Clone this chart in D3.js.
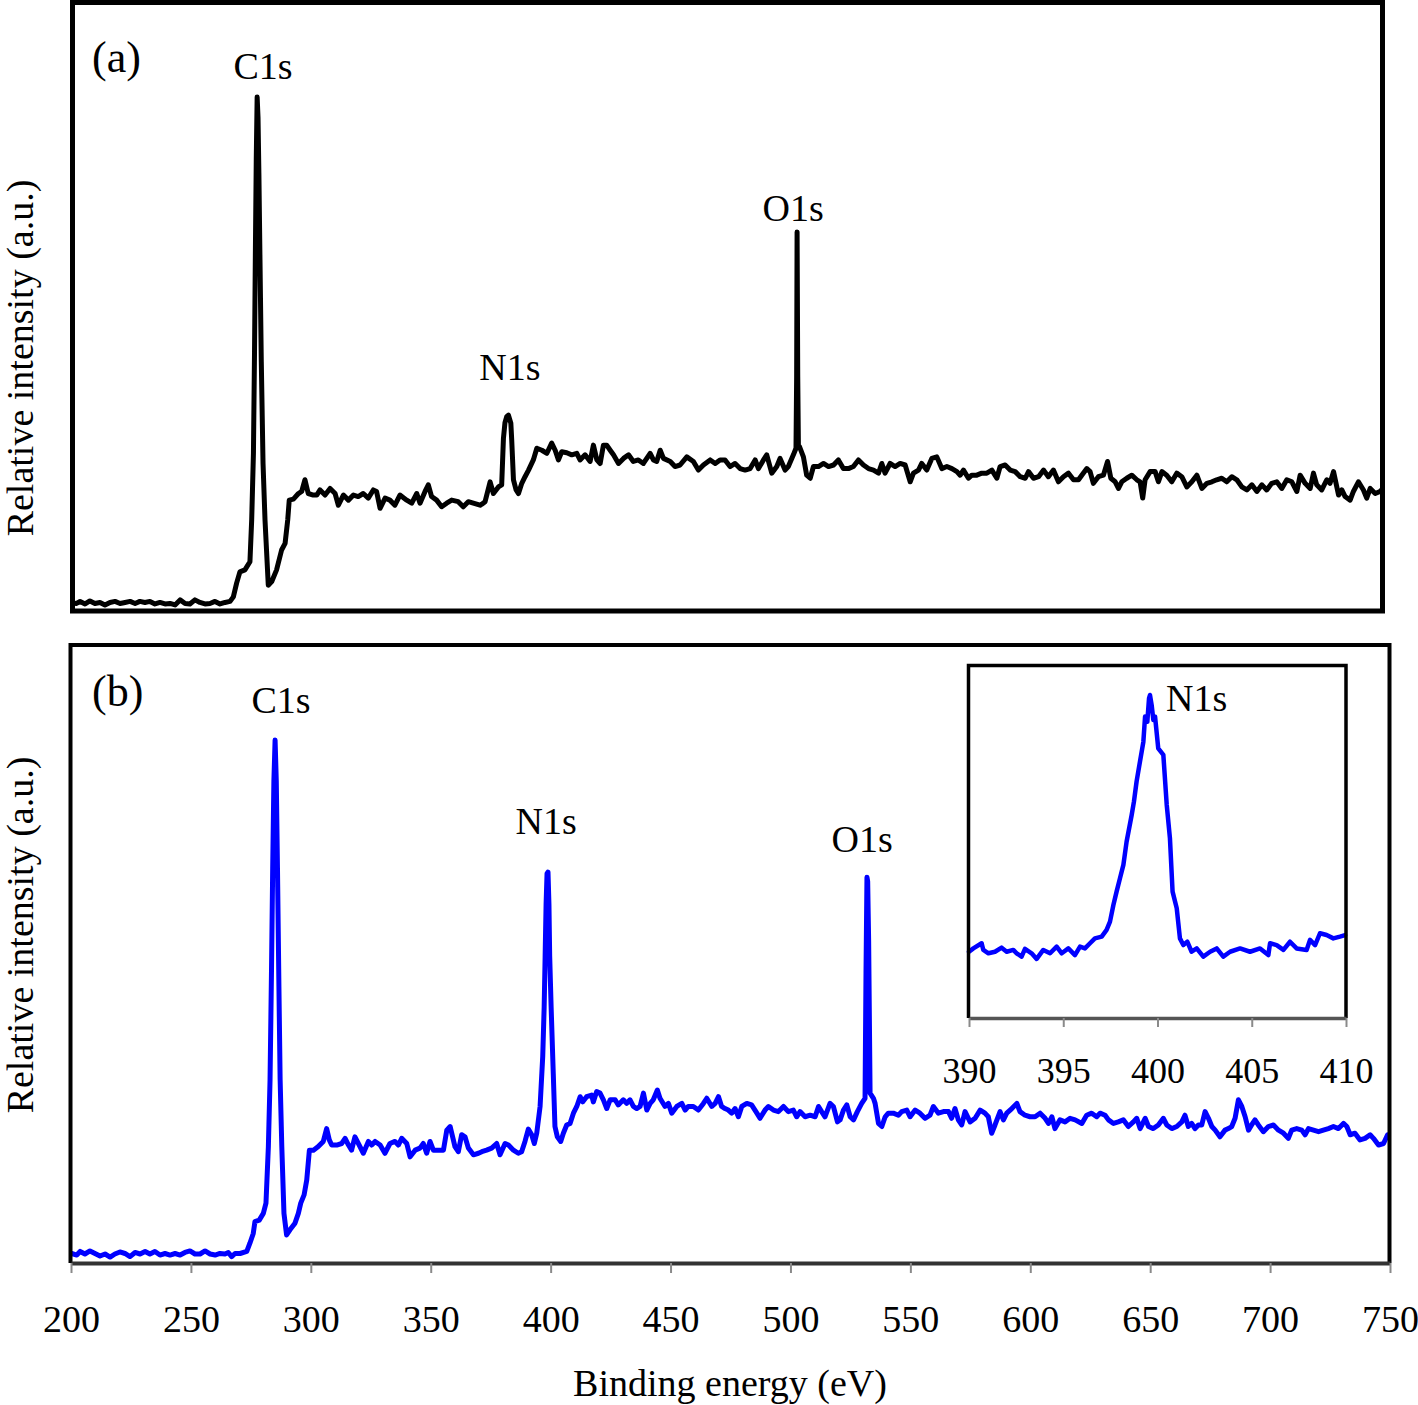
<!DOCTYPE html>
<html>
<head>
<meta charset="utf-8">
<script src="https://cdn.jsdelivr.net/npm/d3@7"></script>
<style>
  html, body { margin: 0; padding: 0; background: #fff; }
  svg text { font-family: "Liberation Serif", "Times New Roman", serif; fill: #000; }
</style>
</head>
<body>
<svg id="chart" width="1418" height="1405"></svg>
<script>
// ---------- DATA ----------
// Panel (a): survey spectrum [binding energy (eV), relative intensity]
const specA = [
[200,0.6],[202.1,0.5],[203.7,0.9],[206.0,0.4],[208.2,1.0],[210.5,0.5],[212.8,0.7],[215.1,0.2],[217.4,0.7],[219.7,0.9],
[222.0,0.5],[224.3,0.7],[226.6,0.9],[228.9,0.5],[231.1,0.9],[233.4,0.7],[235.7,0.9],[238.0,0.4],[240.3,0.7],[242.6,0.4],
[244.9,0.5],[247.2,0.2],[249.5,1.2],[251.8,0.5],[254.0,0.4],[256.3,1.2],[258.6,0.7],[260.9,0.4],[263.2,0.5],[265.5,0.9],
[267.8,0.4],[270.1,0.7],[272.4,0.9],[273.9,1.8],[275.4,4.5],[276.9,6.7],[279.2,7.1],[281.5,8.7],[282.3,16.9],[283.1,30],
[283.6,50],[284.0,70],[284.4,88],[284.8,100],[285.2,96],[285.6,85],[286.1,68],[286.7,48],[287.5,28],[288.4,16.9],
[289.9,4.1],[291.5,4.8],[293.7,7.1],[296.0,11.0],[297.6,12.3],[298.8,16.9],[299.5,20.8],[301.4,21.0],[303.7,22.1],[305.2,22.5],
[306.7,24.8],[308.2,22.1],[310.5,21.8],[312.1,21.8],[313.6,22.8],[315.9,21.8],[318.2,23.1],[320.5,22.1],[322.0,19.8],[324.3,21.8],
[326.6,20.8],[328.9,21.8],[331.1,21.5],[333.4,22.1],[335.7,21.2],[338.0,22.8],[339.5,22.5],[341.1,19.2],[343.4,21.2],[345.6,20.8],
[347.9,19.8],[350.2,21.8],[353.3,20.8],[355.6,20.2],[357.9,22.1],[359.4,20.2],[361.7,22.5],[363.2,23.8],[364.7,21.5],[367.0,20.8],
[369.3,19.5],[371.6,20.2],[373.9,20.8],[376.9,20.5],[379.2,19.5],[381.5,20.5],[383.8,20.2],[386.9,19.8],[387.7,20.0],[389.2,20.5],
[391.5,24.4],[393.0,22.1],[395.3,23.4],[396.8,23.8],[397.6,32.9],[398.3,36.0],[399.1,37.2],[399.9,37.5],[401.0,35.9],[401.4,32.6],
[402.2,24.8],[403.4,22.8],[404.5,22.1],[406.0,24.1],[407.5,25.4],[409.1,26.7],[411.3,28.7],[412.9,31.0],[415.2,30.6],[417.5,30.0],
[419.7,32.0],[421.3,30.6],[422.8,28.7],[424.3,30.3],[426.6,30.1],[428.9,29.7],[431.2,30.0],[432.7,28.7],[435.0,29.7],[437.3,28.4],
[438.8,31.6],[440.4,28.7],[441.9,28.0],[443.4,31.6],[444.9,31.6],[446.5,30.6],[448.0,29.7],[450.3,28.0],[452.6,29.0],[454.9,29.7],
[457.1,28.4],[459.4,28.7],[461.7,28.0],[464.8,30.0],[466.3,28.7],[467.8,28.4],[469.4,30.6],[470.9,29.0],[474.0,28.4],[476.2,27.4],
[478.5,27.7],[481.6,29.3],[484.6,28.4],[486.9,26.7],[489.2,27.7],[492.3,28.7],[494.6,28.0],[496.8,28.7],[499.1,28.7],[501.4,27.4],
[503.7,28.0],[506.0,27.0],[508.3,26.7],[510.6,27.0],[512.9,28.7],[514.4,27.0],[516.7,28.7],[518.2,29.7],[520.5,26.1],[522.8,27.4],
[524.3,29.0],[526.6,26.7],[528.1,27.4],[530.4,29.7],[531.6,31.0],[531.9,45],[532.1,73.5],[532.4,45],[532.7,31.5],[533.2,31.3],
[535.0,29.3],[536.5,25.7],[538.1,25.1],[539.6,27.4],[541.9,27.4],[544.2,28.0],[546.5,27.4],[548.8,27.7],[551.0,28.7],[553.3,27.0],
[555.6,27.0],[557.9,27.4],[560.2,28.7],[562.5,27.7],[564.8,27.0],[567.1,26.7],[569.4,26.1],[570.9,28.0],[572.4,26.1],[574.7,28.0],
[577.0,27.4],[579.3,28.0],[581.6,27.7],[583.9,24.4],[585.4,26.1],[587.7,26.7],[589.2,28.0],[591.5,26.7],[593.8,29.0],[596.1,29.3],
[598.4,27.0],[600.7,27.4],[603.0,27.0],[605.3,26.4],[606.8,25.7],[608.3,26.7],[610.6,25.1],[612.1,25.7],[614.4,25.7],[616.7,26.1],
[619.0,26.1],[621.3,26.7],[623.6,25.1],[625.1,27.4],[627.4,27.7],[629.7,26.7],[632.0,26.4],[634.3,25.4],[636.6,25.1],[638.1,26.4],
[640.4,25.1],[642.7,25.4],[645.0,26.7],[647.2,25.4],[649.5,26.7],[651.8,24.4],[654.1,25.4],[656.4,26.1],[658.7,24.8],[661.0,24.8],
[662.5,25.7],[664.8,27.0],[666.3,26.4],[667.8,24.1],[670.1,25.4],[672.4,25.7],[674.3,28.4],[675.8,25.1],[677.8,24.4],[679.3,23.1],
[680.8,24.4],[683.1,25.1],[685.4,25.7],[687.7,24.8],[689.2,24.4],[690.4,21.2],[691.5,24.8],[693.8,26.4],[696.1,26.4],[697.6,24.4],
[699.2,26.4],[701.4,25.7],[703.7,24.4],[706.0,26.1],[708.3,25.4],[710.6,23.4],[712.9,24.4],[715.2,25.7],[717.5,23.1],[719.8,24.1],
[722.1,24.4],[724.3,24.8],[726.6,25.1],[728.9,24.4],[731.2,25.4],[733.5,24.8],[735.8,23.4],[738.1,22.8],[740.4,23.8],[742.7,22.5],
[745.0,23.8],[747.2,22.8],[749.5,24.1],[751.8,24.4],[754.1,23.1],[756.4,24.8],[758.7,24.4],[761.0,22.5],[762.5,25.7],[764.8,24.1],
[767.1,23.1],[768.6,26.1],[770.1,23.8],[772.4,22.8],[774.7,24.8],[776.2,24.1],[777.8,26.4],[780.1,21.8],[781.6,22.8],[783.1,21.5],
[785.4,20.8],[786.9,22.5],[789.2,24.4],[791.5,22.8],[793.0,21.2],[794.6,23.1],[796.9,22.1],[799.1,22.5],[800,22.9]
];

// Panel (b): survey spectrum [binding energy (eV), relative intensity]
const specB = [
[200.3,0.1],[202.4,-0.2],[203.8,0.5],[205.8,0.0],[207.9,0.6],[210.0,0.1],[212.1,-0.4],[214.2,0.0],[216.3,-0.6],[218.3,0.0],
[220.4,0.4],[222.5,0.1],[224.6,-0.5],[226.7,0.3],[228.8,0.0],[230.9,0.5],[232.9,0.0],[235.0,0.5],[237.1,-0.2],[239.2,0.1],
[241.3,-0.2],[243.4,0.1],[245.5,-0.2],[247.5,0.3],[249.6,0.6],[251.7,0.0],[253.8,0.0],[255.9,0.6],[258.0,0.0],[260.1,-0.2],
[262.1,0.1],[264.2,0.0],[265.6,0.3],[267.0,-0.5],[268.4,0.1],[270.5,0.1],[273.3,0.5],[274.6,2.1],[276.0,4.0],[276.7,6.3],
[278.5,6.6],[280.2,7.9],[281.3,9.9],[282.3,20.9],[283.0,33.9],[283.6,55],[284.1,75],[284.6,92],[285.1,100],[285.6,92],
[286.1,75],[286.7,52],[287.2,34],[287.9,20.9],[288.8,7.9],[289.9,3.7],[291.3,4.7],[293.4,6.0],[294.8,7.9],[295.8,9.9],
[297.2,11.5],[298.3,14.4],[299.4,20.2],[301.1,20.2],[303.1,20.9],[305.2,21.9],[306.6,24.4],[307.7,22.2],[308.7,21.2],[310.8,21.2],
[312.9,21.5],[314.3,22.5],[315.7,21.2],[317.0,20.2],[318.4,22.8],[319.8,21.5],[321.9,19.6],[324.0,21.9],[325.4,21.2],[326.8,21.9],
[328.9,21.2],[330.9,19.6],[333.0,21.5],[335.1,21.9],[336.5,21.2],[337.9,22.5],[340.0,21.5],[341.4,18.9],[343.5,20.2],[345.5,20.6],
[346.9,21.5],[348.3,19.6],[349.7,21.9],[351.1,20.2],[353.2,20.2],[355.3,20.2],[356.7,24.1],[358.1,24.8],[360.1,20.9],[361.5,19.9],
[362.9,23.2],[364.3,22.8],[365.7,20.6],[367.8,19.3],[369.9,19.6],[371.3,19.9],[373.3,20.2],[375.4,20.6],[377.5,21.5],[378.9,19.3],
[381.0,21.5],[382.4,21.2],[384.5,20.2],[386.5,19.6],[387.9,19.9],[389.3,21.9],[390.7,24.3],[392.1,23.2],[393.2,21.5],[394.2,23.5],
[395.6,28.7],[396.7,38.4],[397.3,48],[397.7,57.8],[398.1,68],[398.5,74],[398.9,74.3],[399.3,68],[399.6,58],[400.2,48.1],
[401.1,35.1],[401.8,24.8],[402.8,22.8],[404.2,21.9],[405.3,23.5],[406.7,25.1],[408.1,25.4],[409.5,27.4],[410.9,28.7],[412.3,30.6],
[413.4,29.6],[415.0,30.6],[417.1,30.9],[417.8,29.6],[419.2,31.6],[420.6,31.3],[422.0,30.0],[423.4,28.3],[424.8,30.0],[426.9,30.0],
[428.2,29.0],[430.3,30.0],[431.7,29.3],[433.1,30.0],[434.5,28.7],[435.9,28.3],[437.3,28.7],[438.7,31.3],[440.1,28.0],[441.5,29.3],
[442.8,30.0],[444.5,31.9],[445.6,30.3],[447.7,28.7],[449.1,29.3],[450.5,27.4],[452.6,28.7],[454.7,29.3],[456.1,28.0],[457.4,28.7],
[459.5,28.7],[461.6,28.0],[463.7,29.3],[465.1,30.3],[467.2,28.7],[468.6,29.3],[470.0,30.6],[471.3,28.7],[472.7,28.3],[474.1,28.0],
[475.5,27.4],[476.9,28.3],[478.3,26.7],[479.7,28.7],[481.8,29.3],[483.8,29.0],[486.0,27.4],[487.3,26.4],[489.4,28.0],[490.8,28.7],
[492.9,28.0],[495.0,27.7],[497.1,28.7],[499.1,27.7],[501.2,28.0],[502.6,26.7],[504.0,27.7],[506.1,26.7],[508.2,27.0],[510.3,26.7],
[511.7,28.7],[513.0,27.7],[514.4,26.7],[516.5,29.3],[517.9,28.7],[519.6,25.7],[520.7,26.1],[522.1,28.0],[523.5,29.0],[524.9,26.7],
[526.3,26.1],[527.9,27.7],[529.7,29.3],[531.1,30.3],[531.5,54.6],[531.9,73.3],[532.2,72.5],[532.6,61.1],[533.2,31.3],[534.6,30.3],
[535.3,29.3],[536.7,25.4],[538.1,24.8],[539.5,26.7],[540.8,27.4],[542.9,27.4],[545.0,27.0],[546.4,27.7],[548.5,28.0],[549.9,26.7],
[552.0,28.0],[554.0,27.4],[556.1,26.4],[558.2,27.0],[559.6,28.7],[561.7,27.4],[563.8,27.7],[565.9,27.7],[567.2,26.4],[568.6,28.3],
[570.0,26.1],[571.4,25.1],[572.8,27.7],[574.9,25.7],[577.0,26.4],[579.1,28.0],[581.1,27.4],[582.5,26.7],[583.9,23.5],[585.3,25.1],
[587.4,27.7],[588.8,26.1],[590.2,27.4],[592.3,28.3],[594.4,29.3],[595.7,27.7],[597.8,27.0],[599.9,26.7],[602.0,26.7],[604.1,27.4],
[606.2,26.4],[607.6,25.4],[609.0,26.7],[610.3,24.4],[612.4,26.1],[614.5,25.7],[616.6,26.4],[618.7,26.1],[621.5,25.4],[623.5,27.0],
[625.6,27.4],[627.7,26.7],[629.1,27.4],[631.2,27.0],[632.6,26.1],[634.7,25.4],[636.7,25.7],[638.8,26.1],[640.9,24.8],[643.0,25.7],
[644.4,26.4],[645.8,24.4],[647.9,26.4],[649.3,24.8],[651.3,24.4],[653.4,25.1],[655.5,26.4],[656.9,25.1],[659.0,24.4],[661.1,24.8],
[663.2,25.7],[664.5,27.0],[665.9,24.8],[667.3,25.4],[668.7,24.4],[670.1,25.1],[671.5,25.1],[672.9,27.7],[674.3,26.4],[675.7,24.8],
[677.1,24.1],[679.1,22.8],[681.2,24.1],[682.6,24.4],[684.0,24.8],[685.4,26.4],[686.8,30.0],[688.2,28.7],[689.6,26.7],[691.0,24.1],
[692.3,25.1],[693.7,26.1],[695.1,25.1],[697.2,23.8],[699.3,24.8],[701.4,25.1],[703.5,24.1],[705.6,23.5],[707.6,22.5],[709.0,24.1],
[711.1,24.4],[713.2,24.1],[714.6,23.2],[716.0,24.4],[718.1,24.1],[720.2,23.8],[722.2,24.1],[724.3,24.4],[726.4,24.8],[728.5,24.4],
[730.6,25.4],[732.0,24.8],[733.4,23.2],[735.4,23.5],[737.5,22.2],[739.6,22.5],[741.7,23.2],[743.1,22.5],[745.2,21.2],[747.3,21.5],
[749.0,23.2],[750,22.8]
];

// Inset: high-resolution N1s spectrum [binding energy (eV), relative intensity]
const specInset = [
[390.0,0.1],[390.23,1.4],[390.67,3.4],[390.76,0.8],[391.03,-0.5],[391.38,0.1],[391.73,1.7],[392.0,0.1],[392.35,0.8],[392.53,-0.5],
[392.79,-1.8],[392.97,1.2],[393.32,-0.5],[393.59,-2.7],[393.94,0.8],[394.30,-0.5],[394.65,2.1],[394.92,-0.5],[395.27,1.4],[395.62,-1.2],
[395.89,2.1],[396.15,1.4],[396.42,3.4],[396.68,5.3],[397.04,6.0],[397.30,8.6],[397.48,11.8],[397.66,18.3],[397.83,23.5],[398.01,28.7],
[398.19,33.9],[398.36,42.9],[398.63,53.3],[398.75,58.5],[398.89,66.3],[399.07,74.1],[399.25,81.8],[399.34,91.6],[399.46,89.6],[399.55,98.7],
[399.60,100],[399.69,96.1],[399.78,90.3],[399.87,91.6],[400.04,79.2],[400.31,76.7],[400.49,57.2],[400.66,44.2],[400.80,23.5],[401.02,17.0],
[401.19,5.3],[401.37,2.7],[401.58,4.0],[401.81,0.1],[402.08,1.4],[402.43,-1.8],[402.79,0.1],[403.14,1.4],[403.49,-1.8],[403.85,0.1],
[404.38,1.4],[404.91,0.1],[405.44,1.4],[405.88,-1.2],[405.97,3.4],[406.32,2.7],[406.68,0.8],[407.03,4.0],[407.38,1.4],[407.91,0.8],
[408.09,4.7],[408.36,2.7],[408.62,7.3],[408.97,6.6],[409.33,5.3],[409.68,6.0],[409.95,6.6]
];

// Axis ticks
const ticksMain = [200,250,300,350,400,450,500,550,600,650,700,750];
const ticksInset = [390,395,400,405,410];

// Peak annotations: [label, energy, intensity at text baseline]
const labelsA = [["C1s",287.5,103.5],["N1s",400.6,44.4],["O1s",530.3,75.6]];
const labelsB = [["C1s",287.6,105.3],["N1s",398.1,81.7],["O1s",529.9,78.2]];
const labelsInset = [["N1s",400.45,93.8]];

const panelTags = ["(a)","(b)"];
const xTitle = "Binding energy (eV)";
const yTitle = "Relative intensity (a.u.)";

// ---------- DRAWING ----------
const svg = d3.select("#chart");
const FONT = 38;

// Scales
const xA = d3.scaleLinear().domain([200,800]).range([72,1382]);
const yA = d3.scaleLinear().domain([0,100]).range([606,97]);
const xB = d3.scaleLinear().domain([200,750]).range([71,1390]);
const yB = d3.scaleLinear().domain([0,100]).range([1254,740]);
const xI = d3.scaleLinear().domain([390,410]).range([969,1346]);
const yI = d3.scaleLinear().domain([0,100]).range([952,695]);

const defs = svg.append("defs");
defs.append("clipPath").attr("id","clipA").append("rect")
  .attr("x",72).attr("y",4).attr("width",1311).attr("height",605);
defs.append("clipPath").attr("id","clipB").append("rect")
  .attr("x",71).attr("y",647).attr("width",1320).attr("height",614);

// ----- Panel (a) -----
svg.append("path")
  .datum(specA)
  .attr("clip-path","url(#clipA)")
  .attr("fill","none").attr("stroke","#000").attr("stroke-width",5)
  .attr("stroke-linejoin","round").attr("stroke-linecap","round")
  .attr("d", d3.line().x(d=>xA(d[0])).y(d=>yA(d[1])));

svg.append("rect")
  .attr("x",72.5).attr("y",2.5).attr("width",1310).attr("height",608.5)
  .attr("fill","none").attr("stroke","#000").attr("stroke-width",5);

svg.selectAll(".labA").data(labelsA).enter().append("text")
  .attr("x",d=>xA(d[1])).attr("y",d=>yA(d[2]))
  .attr("text-anchor","middle").attr("font-size",FONT).text(d=>d[0]);

svg.append("text").attr("x",92).attr("y",72).attr("font-size",44).text(panelTags[0]);

svg.append("text")
  .attr("transform","translate(33,358) rotate(-90)")
  .attr("text-anchor","middle").attr("font-size",FONT).text(yTitle);

// ----- Panel (b) -----
svg.append("path")
  .datum(specB)
  .attr("clip-path","url(#clipB)")
  .attr("fill","none").attr("stroke","#0000ff").attr("stroke-width",5)
  .attr("stroke-linejoin","round").attr("stroke-linecap","round")
  .attr("d", d3.line().x(d=>xB(d[0])).y(d=>yB(d[1])));

// frame: left, top, right in black
svg.append("path")
  .attr("d","M70.5,1263 L70.5,645 L1389.5,645 L1389.5,1263")
  .attr("fill","none").attr("stroke","#000").attr("stroke-width",4);

const axB = svg.append("g").attr("transform","translate(0,1263)")
  .call(d3.axisBottom(xB).tickValues(ticksMain).tickSize(10).tickSizeOuter(0).tickPadding(32).tickFormat(d3.format("d")));
axB.select(".domain").attr("stroke","#333").attr("stroke-width",4);
axB.selectAll(".tick line").attr("stroke","#8a8a8a").attr("stroke-width",2);
axB.selectAll(".tick text").attr("font-size",FONT)
  .attr("font-family","'Liberation Serif','Times New Roman',serif").attr("fill","#000");

svg.selectAll(".labB").data(labelsB).enter().append("text")
  .attr("x",d=>xB(d[1])).attr("y",d=>yB(d[2]))
  .attr("text-anchor","middle").attr("font-size",FONT).text(d=>d[0]);

svg.append("text").attr("x",92).attr("y",706).attr("font-size",44).text(panelTags[1]);

svg.append("text")
  .attr("transform","translate(33,935) rotate(-90)")
  .attr("text-anchor","middle").attr("font-size",FONT).text(yTitle);

svg.append("text").attr("x",730).attr("y",1396)
  .attr("text-anchor","middle").attr("font-size",FONT).text(xTitle);

// ----- Inset -----
svg.append("path")
  .datum(specInset)
  .attr("fill","none").attr("stroke","#0000ff").attr("stroke-width",4.5)
  .attr("stroke-linejoin","round").attr("stroke-linecap","round")
  .attr("d", d3.line().x(d=>xI(d[0])).y(d=>yI(d[1])));

svg.append("path")
  .attr("d","M968.5,1018 L968.5,665.5 L1346,665.5 L1346,1018")
  .attr("fill","none").attr("stroke","#000").attr("stroke-width",3.5);

const axI = svg.append("g").attr("transform","translate(0,1018)")
  .call(d3.axisBottom(xI).tickValues(ticksInset).tickSize(9).tickSizeOuter(0).tickPadding(30).tickFormat(d3.format("d")));
axI.select(".domain").attr("stroke","#555").attr("stroke-width",3.5);
axI.selectAll(".tick line").attr("stroke","#8a8a8a").attr("stroke-width",2);
axI.selectAll(".tick text").attr("font-size",36)
  .attr("font-family","'Liberation Serif','Times New Roman',serif").attr("fill","#000");

svg.selectAll(".labI").data(labelsInset).enter().append("text")
  .attr("x",d=>xI(d[1])).attr("y",d=>yI(d[2]))
  .attr("text-anchor","start").attr("font-size",FONT).text(d=>d[0]);
</script>
</body>
</html>
